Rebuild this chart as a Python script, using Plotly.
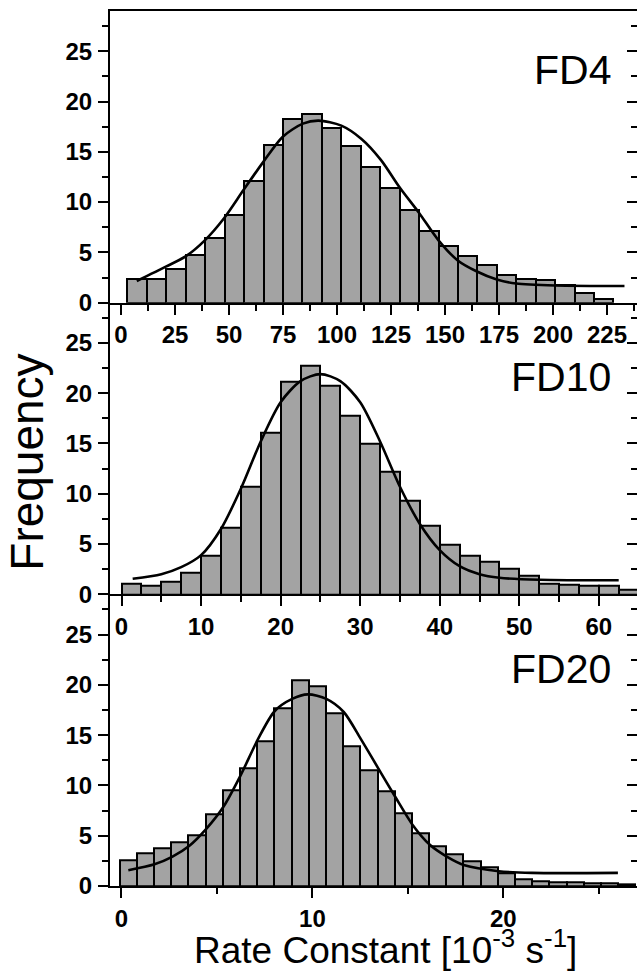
import plotly.graph_objects as go

# ---------------- data ----------------
fd4_centers = [7.5 + 9 * k for k in range(25)]
fd4_counts = [2.4, 2.4, 3.3, 4.7, 6.4, 8.7, 12.1, 15.7, 18.3, 18.8, 17.4, 15.6, 13.5,
              11.4, 9.2, 7.1, 5.6, 4.6, 3.7, 2.8, 2.4, 2.3, 1.8, 1.0, 0.4]
fd4_fit_x = [7.3, 21.0, 29.9, 38.8, 47.7, 56.7, 65.9, 74.9, 84.2, 91.5, 102.0, 111.2,
             120.3, 129.2, 138.1, 147.0, 155.9, 164.8, 174.0, 182.9, 201.2, 233.1]
fd4_fit_y = [2.15, 3.6, 4.6, 6.2, 8.4, 11.2, 14.0, 16.5, 17.8, 18.1, 17.6, 16.3,
             14.2, 11.4, 8.9, 6.2, 4.2, 3.1, 2.3, 1.9, 1.7, 1.65]

fd10_centers = [1.25 + 2.5 * k for k in range(26)]
fd10_counts = [1.05, 0.9, 1.3, 2.2, 3.85, 6.6, 10.75, 16.1, 21.1, 22.7, 20.7, 17.8, 15.0,
               12.2, 9.3, 6.8, 4.9, 3.85, 3.2, 2.6, 1.9, 1.1, 1.0, 0.9, 0.9, 0.5]
fd10_fit_x = [1.4, 5.0, 7.5, 10.0, 12.5, 15.0, 17.5, 20.0, 22.5, 25.0, 27.5, 30.0, 32.5,
              35.0, 37.5, 40.0, 42.5, 45.0, 47.5, 52.5, 62.5]
fd10_fit_y = [1.55, 2.0, 2.7, 3.9, 6.5, 10.5, 15.2, 19.1, 21.2, 21.9, 21.2, 19.1, 15.2,
              10.7, 7.0, 4.4, 2.8, 2.0, 1.65, 1.45, 1.4]

fd20_centers = [0.36 + 0.9 * k for k in range(30)]
fd20_counts = [2.6, 3.2, 3.7, 4.3, 5.0, 7.1, 9.5, 11.7, 14.4, 17.7, 20.4, 19.9, 17.2, 13.9,
               11.5, 9.4, 7.2, 5.2, 3.9, 3.1, 2.5, 1.9, 1.25, 0.7, 0.5, 0.4, 0.35, 0.3, 0.25, 0.2]
fd20_fit_x = [0.36, 1.73, 2.65, 3.56, 4.43, 5.35, 6.24, 7.15, 8.03, 8.94, 9.76, 10.73, 11.64,
              12.54, 13.45, 14.36, 15.24, 16.15, 17.06, 17.97, 19.76, 21.5, 26.0]
fd20_fit_y = [1.57, 2.16, 2.9, 4.0, 5.65, 7.9, 11.0, 14.6, 17.4, 18.6, 19.05, 18.6, 17.3,
              14.6, 11.7, 8.8, 6.1, 4.1, 2.9, 2.06, 1.47, 1.3, 1.3]

panel_labels = ["FD4", "FD10", "FD20"]
x_title = "Rate Constant [10<sup>-3</sup> s<sup>-1</sup>]"
y_title = "Frequency"

# ---------------- figure ----------------
FONT = "Liberation Sans, Arial, sans-serif"
BAR_FILL = "#a3a3a3"

panels = [
    (fd4_centers, fd4_counts, 9.0, fd4_fit_x, fd4_fit_y, "x", "y", "y4"),
    (fd10_centers, fd10_counts, 2.5, fd10_fit_x, fd10_fit_y, "x2", "y2", "y5"),
    (fd20_centers, fd20_counts, 0.9, fd20_fit_x, fd20_fit_y, "x3", "y3", "y6"),
]

fig = go.Figure()
for cx, cy, w, fx, fy, xa, ya, yr in panels:
    fig.add_trace(go.Bar(x=cx, y=cy, width=w, xaxis=xa, yaxis=ya,
                         marker=dict(color=BAR_FILL, line=dict(color="black", width=2)),
                         showlegend=False, hoverinfo="skip"))
    fig.add_trace(go.Scatter(x=fx, y=fy, xaxis=xa, yaxis=ya, mode="lines",
                             line=dict(color="black", width=2.6, shape="spline", smoothing=0.8),
                             showlegend=False, hoverinfo="skip"))
    # invisible copy so the right-hand tick axis is rendered
    fig.add_trace(go.Scatter(x=fx, y=fy, xaxis=xa, yaxis=yr, mode="lines",
                             line=dict(color="rgba(0,0,0,0)", width=0), opacity=0,
                             showlegend=False, hoverinfo="skip"))

tickfont = dict(family=FONT, size=24, color="black", weight="bold")

def yax(domain):
    return dict(domain=domain, range=[0, 29], tickvals=[0, 5, 10, 15, 20, 25],
                ticks="outside", ticklen=10, tickwidth=2, tickcolor="black",
                showline=True, linewidth=2, linecolor="black", showgrid=False,
                zeroline=False, tickfont=tickfont, ticklabelstandoff=1,
                minor=dict(dtick=2.5, ticks="outside", ticklen=6, tickwidth=2, tickcolor="black"))

def yax_right(over, anchor):
    return dict(overlaying=over, anchor=anchor, side="right", range=[0, 29],
                tickvals=[0, 5, 10, 15, 20, 25],
                ticks="inside", ticklen=10, tickwidth=2, tickcolor="black",
                showline=False, showgrid=False, zeroline=False, showticklabels=False,
                minor=dict(dtick=2.5, ticks="inside", ticklen=6, tickwidth=2, tickcolor="black"))

def xax(anchor, rng, vals, minor_dt, mirror=False):
    return dict(anchor=anchor, domain=[0, 1], range=rng, tickvals=vals,
                ticks="outside", ticklen=10, tickwidth=2, tickcolor="black",
                showline=True, linewidth=2, linecolor="black", mirror=mirror,
                showgrid=False, zeroline=False, tickfont=tickfont, ticklabelstandoff=0,
                minor=dict(dtick=minor_dt, ticks="outside", ticklen=6, tickwidth=2, tickcolor="black"))

fig.update_layout(
    width=637, height=971,
    margin=dict(l=110, r=0, t=11, b=85),
    paper_bgcolor="white", plot_bgcolor="white",
    bargap=0,
    xaxis=xax("y", [-5.1, 238.9], [0, 25, 50, 75, 100, 125, 150, 175, 200, 225], 12.5, mirror=True),
    xaxis2=xax("y2", [-1.45, 64.8], [0, 10, 20, 30, 40, 50, 60], 5),
    xaxis3=xax("y3", [-0.6, 27.0], [0, 10, 20], 5),
    yaxis=yax([2 / 3, 1]),
    yaxis2=yax([1 / 3, 2 / 3]),
    yaxis3=yax([0, 1 / 3]),
    yaxis4=yax_right("y", "x"),
    yaxis5=yax_right("y2", "x2"),
    yaxis6=yax_right("y3", "x3"),
)

label_y = [0.932, 0.582, 0.248]
for txt, yy in zip(panel_labels, label_y):
    fig.add_annotation(text=txt, xref="paper", yref="paper", x=0.955, y=yy,
                       xanchor="right", yanchor="middle", showarrow=False,
                       font=dict(family=FONT, size=41, color="black"))

fig.add_annotation(text=y_title, xref="paper", yref="paper", x=-0.158, y=0.4846,
                   xanchor="center", yanchor="middle", textangle=-90, showarrow=False,
                   font=dict(family=FONT, size=46, color="black"))
fig.add_annotation(text=x_title, xref="paper", yref="paper", x=0.522, y=-0.0705,
                   xanchor="center", yanchor="middle", showarrow=False,
                   font=dict(family=FONT, size=37, color="black"))

fig.write_html("out.html", config={"displayModeBar": False},
               post_script="document.body.style.margin='0';document.body.style.overflow='hidden';")
